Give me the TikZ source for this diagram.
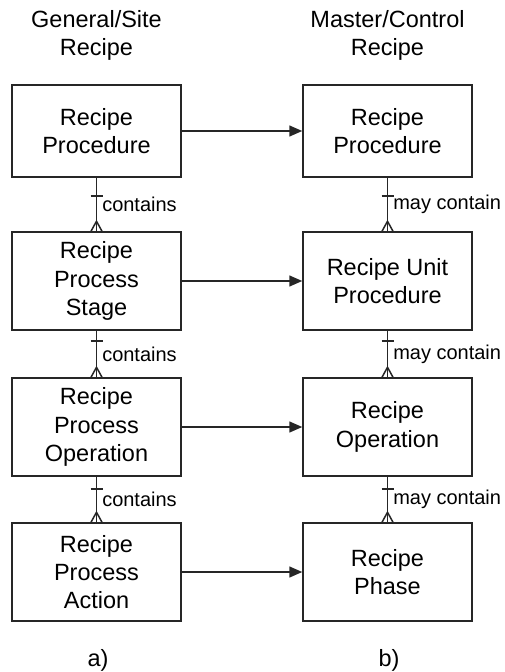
\documentclass[tikz,border=0pt]{standalone}
\usepackage{fontspec}
\setmainfont{Liberation Sans}
\usetikzlibrary{arrows.meta}
\begin{document}
\begin{tikzpicture}[x=1pt,y=-1pt,
  box/.style={draw=black!85,line width=1.5pt,minimum width=169pt,align=center,
    inner sep=0pt,font=\fontsize{23.5}{28.3}\selectfont},
  head/.style={align=center,inner sep=0pt,font=\fontsize{23.5}{28}\selectfont},
  rel/.style={anchor=west,inner sep=0pt,font=\fontsize{20}{22}\selectfont},
  link/.style={draw=black!85,line width=1.5pt,-{Triangle[length=13pt,width=11pt]}},
  conn/.style={draw=black!85,line width=1.5pt}]
  \useasboundingbox (0,0) rectangle (505,672);

  % column headers
  \node[head] (ha) at (96.5,35) {General/Site\\Recipe};
  \node[head] (hb) at (387.5,35) {Master/Control\\Recipe};

  % general/site recipe column
  \node[box,minimum height=92pt] (a1) at (96.5,131) {Recipe\\Procedure};
  \node[box,minimum height=98pt] (a2) at (96.5,281) {Recipe\\Process\\Stage};
  \node[box,minimum height=98pt] (a3) at (96.5,427) {Recipe\\Process\\Operation};
  \node[box,minimum height=98pt] (a4) at (96.5,572) {Recipe\\Process\\Action};

  % master/control recipe column
  \node[box,minimum height=92pt] (b1) at (387.5,131) {Recipe\\Procedure};
  \node[box,minimum height=98pt] (b2) at (387.5,281) {Recipe Unit\\Procedure};
  \node[box,minimum height=98pt] (b3) at (387.5,427) {Recipe\\Operation};
  \node[box,minimum height=98pt] (b4) at (387.5,572) {Recipe\\Phase};

  % captions
  \node[head] (ca) at (98,660) {a)};
  \node[head] (cb) at (389,660) {b)};

  % transformation arrows
  \foreach \i in {1,...,4}
    \draw[link] (a\i.east) -- (b\i.west);

  % one-to-many containment links with bar and crow's foot
  \foreach \c/\t/\bar/\lab in {a/1/18/contains,a/2/10/contains,a/3/12/contains,
                               b/1/18/may contain,b/2/10/may contain,b/3/12/may contain}{
    \pgfmathtruncatemacro{\n}{\t+1}
    \draw[conn] (\c\t.south) -- (\c\n.north)
      node[rel,midway,xshift=5pt] (lab\c\t) {\lab};
    \draw[conn] ([xshift=-6pt,yshift=-\bar pt]\c\t.south) -- ([xshift=6pt,yshift=-\bar pt]\c\t.south);
    \draw[conn] ([xshift=-5.5pt]\c\n.north) -- ([yshift=10pt]\c\n.north) -- ([xshift=5.5pt]\c\n.north);
  }
\end{tikzpicture}
\end{document}
